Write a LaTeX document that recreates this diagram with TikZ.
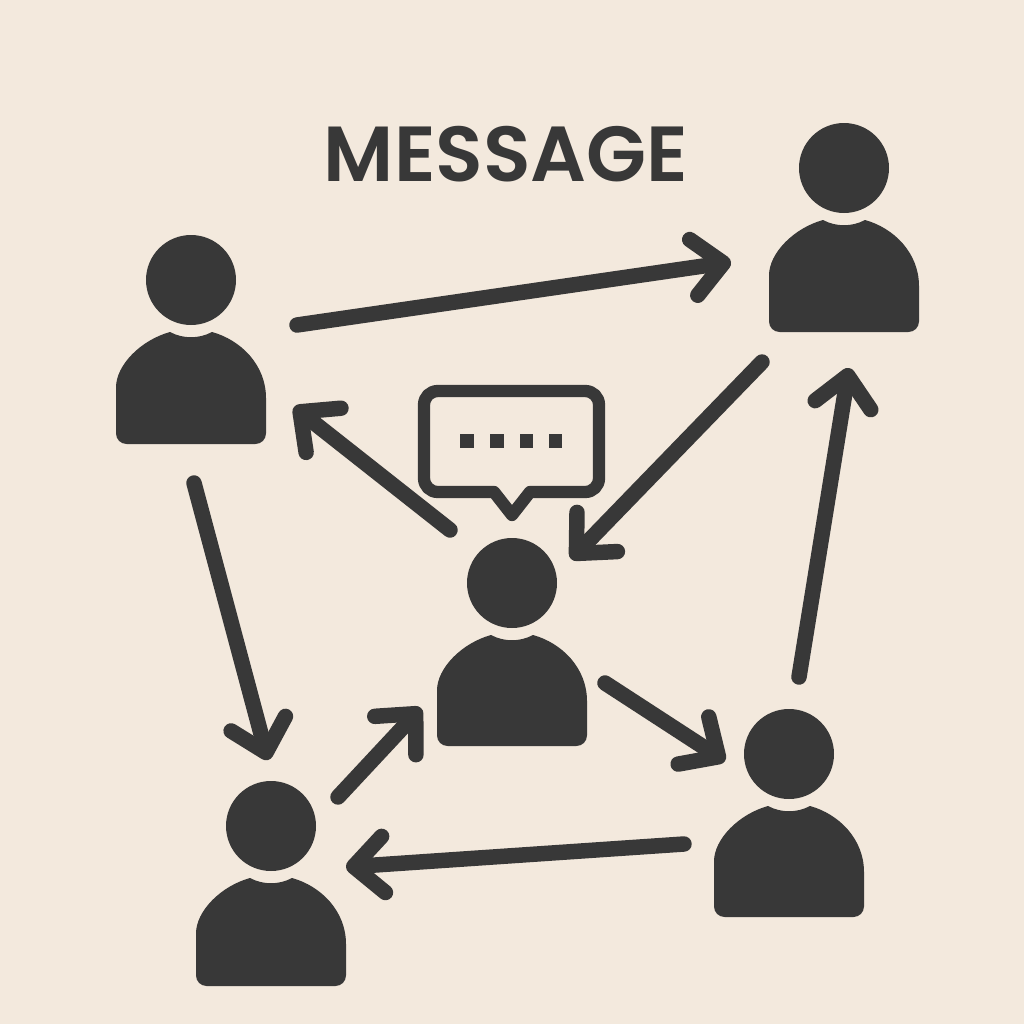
\documentclass[tikz,border=0pt]{standalone}
\usepackage{fontspec}
\usepackage{xcolor}
\usetikzlibrary{arrows.meta}
\newfontfamily\titlefont{Poppins SemiBold}
\definecolor{papercolor}{HTML}{F3E9DD}
\definecolor{inkcolor}{HTML}{383838}
\newcommand{\headR}{45}
\newcommand{\shaftW}{4.4pt}
\tikzset{
    pics/person/.style={code={
        \fill[inkcolor] (0, 0) circle [radius=\headR];
        \fill[inkcolor] (-75, 118) .. controls (-75, 85) and (-50, 60) .. (-21, 52)
            .. controls (-8, 59) and (8, 59) .. (21, 52)
            .. controls (50, 60) and (75, 85) .. (75, 118)
            [rounded corners=3pt] -- (75, #1) -- (-75, #1) -- cycle;
    }},
    msgarrow/.style={draw=inkcolor, line width=\shaftW, line cap=round,
        -{Straight Barb[length=8.5pt, width=16pt, round]}},
    dotbox/.style={fill=inkcolor, minimum width=3.7pt, minimum height=4pt, inner sep=0pt}
}

\begin{document}
\begin{tikzpicture}[x=0.01cm, y=-0.01cm]
    % background
    \fill[papercolor] (0, 0) rectangle (1024, 1024);
    \useasboundingbox (0, 0) rectangle (1024, 1024);

    % people
    \pic at (191, 280) {person=164};
    \pic at (844, 168) {person=164};
    \pic at (512, 583) {person=163};
    \pic at (789, 754) {person=163};
    \pic at (271, 826) {person=160};

    % title
    \node [text=inkcolor, font=\titlefont\fontsize{22.2}{22}\selectfont, inner sep=0pt] (title) at (506, 154) {MESSAGE};

    % speech bubble
    \draw[inkcolor, line width=3.5pt, line join=round]
        (438, 391) -- (585, 391) .. controls (593, 391) and (599, 397) .. (599, 405)
        -- (599, 478) .. controls (599, 486) and (593, 492) .. (585, 492)
        -- (530, 492) -- (512, 515) -- (494, 492) -- (438, 492)
        .. controls (430, 492) and (424, 486) .. (424, 478)
        -- (424, 405) .. controls (424, 397) and (430, 391) .. (438, 391) -- cycle;
    \foreach \n/\xx in {a/467, b/497, c/526, d/555} {
        \node [dotbox] (dot\n) at (\xx, 441) {};
    }

    % arrow ends
    \coordinate (leftOut) at (297, 325);
    \coordinate (rightIn) at (731, 262);
    \coordinate (rightOut) at (762, 362);
    \coordinate (midIn) at (571, 559);
    \coordinate (midOut) at (450, 530);
    \coordinate (leftIn) at (294, 407);
    \coordinate (leftDown) at (194, 483);
    \coordinate (lowIn) at (268, 760);
    \coordinate (lowOut) at (338, 797);
    \coordinate (midLow) at (421, 708);
    \coordinate (midRight) at (605, 683);
    \coordinate (lowRightIn) at (725, 761);
    \coordinate (lowRightUp) at (799, 677);
    \coordinate (rightLow) at (849, 368);
    \coordinate (lowRightOut) at (684, 844);
    \coordinate (lowFrom) at (346, 867);

    % arrows
    \draw[msgarrow] (leftOut) -- (rightIn);
    \draw[msgarrow] (rightOut) -- (midIn);
    \draw[msgarrow] (midOut) -- (leftIn);
    \draw[msgarrow] (leftDown) -- (lowIn);
    \draw[msgarrow] (lowOut) -- (midLow);
    \draw[msgarrow] (midRight) -- (lowRightIn);
    \draw[msgarrow] (lowRightUp) -- (rightLow);
    \draw[msgarrow] (lowRightOut) -- (lowFrom);
\end{tikzpicture}
\end{document}
